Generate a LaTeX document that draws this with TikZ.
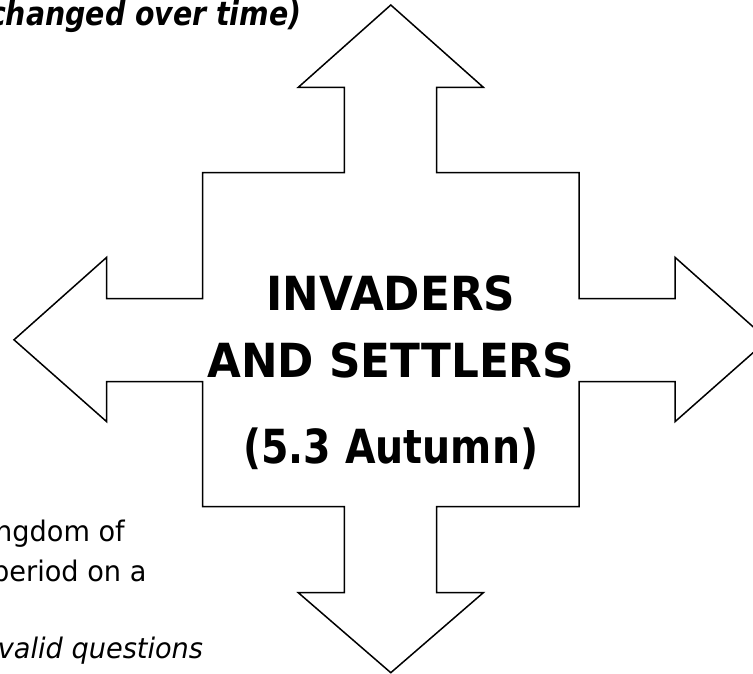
\documentclass[tikz,border=0pt]{standalone}
\usepackage{fontspec}
\newfontfamily\tahoma{DejaVu Sans}[FakeStretch=0.93]
\newfontfamily\tahomanarrow{DejaVu Sans}[FakeStretch=0.84]
\newfontfamily\tahomatext{DejaVu Sans}[FakeStretch=0.96]
\newfontfamily\tahomahead{DejaVu Sans}[FakeStretch=0.86]
\begin{document}
\begin{tikzpicture}[x=1pt,y=-1pt,line join=miter,line cap=butt]
	\tikzset{title/.style={font=\tahoma\bfseries\fontsize{47}{56}\selectfont,anchor=base,inner sep=0pt},
		body/.style={font=\tahomatext\fontsize{28.3}{34}\selectfont,anchor=base east,inner sep=0pt}}
	\def\cx{390.8} \def\cy{339.8} % centre
	\def\boxl{202.7} \def\boxr{579} \def\boxt{172.7} \def\boxb{506.7} % box
	\def\vl{344.3} \def\vr{436.7} \def\hl{298.3} \def\hr{483.3} % up/down arrows
	\def\htop{298.7} \def\hbot{381.7} \def\wtop{257.3} \def\wbot{421.7} % left/right arrows
	\useasboundingbox (0,0) rectangle (753,674);
	\clip (0,0) rectangle (753,674);
	%\draw[gray!40] (0,0) grid[step=50] (753,674);
	\draw[line width=1.5pt] (\cx,5)--(\hr,87.3)--(\vr,87.3)--(\vr,\boxt)--(\boxr,\boxt)--(\boxr,\htop)
		--(675,\htop)--(675,\wtop)--(767.7,\cy)--(675,\wbot)--(675,\hbot)--(\boxr,\hbot)--(\boxr,\boxb)
		--(\vr,\boxb)--(\vr,592.7)--(\hr,592.7)--(\cx,672.7)--(\hl,592.7)--(\vl,592.7)--(\vl,\boxb)
		--(\boxl,\boxb)--(\boxl,\hbot)--(106.7,\hbot)--(106.7,\wbot)--(14,\cy)--(106.7,\wtop)--(106.7,\htop)
		--(\boxl,\htop)--(\boxl,\boxt)--(\vl,\boxt)--(\vl,87.3)--(\hl,87.3)--cycle;
	\node[title] (invaders) at (\cx,310) {INVADERS};
	\node[title] (settlers) at (\cx,377) {AND SETTLERS};
	\node[title,font=\tahomanarrow\bfseries\fontsize{47}{56}\selectfont] (term) at (\cx,463.3) {(5.3 Autumn)};
	\node[body,font=\tahomahead\bfseries\itshape\fontsize{33}{40}\selectfont] (changed) at (301.7,26) {changed over time)};
	\node[body] (kingdom) at (125,541.7) {ngdom of};
	\node[body] (period) at (146.7,581.7) {period on a};
	\node[body,font=\tahomatext\itshape\fontsize{28.3}{34}\selectfont] (valid) at (203.3,658.3) {valid questions};
\end{tikzpicture}
\end{document}
